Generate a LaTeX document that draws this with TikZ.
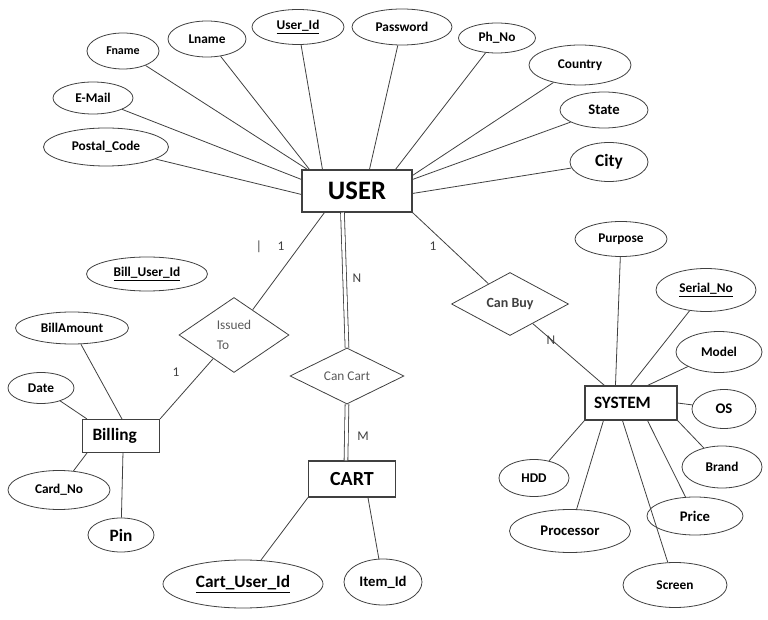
\documentclass[tikz,border=0pt]{standalone}
\usepackage{fontspec}
\setmainfont{Carlito}
\usepackage{xcolor}
\usepackage{tikz}
\usetikzlibrary{shapes.geometric}
\usetikzlibrary{calc, positioning}

\definecolor{linea}{HTML}{404040}
\definecolor{grigio}{HTML}{5A5A5A}

\tikzset{
  attr/.style 2 args={draw=linea, line width=0.6pt, ellipse, inner sep=0pt,
    minimum width=#1*0.75pt, minimum height=#2*0.75pt,
    font=\fontsize{10}{12}\selectfont\bfseries},
  entity/.style={draw=linea, line width=0.8pt, rectangle, inner ysep=0pt},
  rel/.style 2 args={draw=linea, line width=0.6pt, diamond, aspect=1.6, inner sep=0pt,
    minimum width=#1*0.75pt, minimum height=#2*0.75pt,
    font=\fontsize{10}{12}\selectfont, text=grigio},
  card/.style={font=\fontsize{10}{12}\selectfont, text=linea},
  conn/.style={draw=linea, line width=0.6pt},
  doppia/.style={draw=linea, line width=0.6pt, double, double distance=2.2pt}
}

\begin{document}
\begin{tikzpicture}[x=0.75pt, y=-0.75pt]
        \useasboundingbox (0,0) rectangle (768,620);

        % Entita USER
        \node[entity, minimum width=110*0.75pt, minimum height=42*0.75pt,
          font=\fontsize{20}{24}\selectfont\bfseries] (user) at (357,191) {USER};
        \node[attr={72}{36}, font=\fontsize{9}{11}\selectfont\bfseries] (fname) at (123,51) {Fname};
        \node[attr={78}{36}] (lname) at (207,39) {Lname};
        \node[attr={92}{35}] (userid) at (298,27) {\underline{User\_Id}};
        \node[attr={100}{36}] (password) at (402,27) {Password};
        \node[attr={77}{30}] (phno) at (497,38) {Ph\_No};
        \node[attr={102}{40}] (country) at (580,65) {Country};
        \node[attr={88}{36}, font=\fontsize{11}{13}\selectfont\bfseries] (state) at (604,110) {State};
        \node[attr={78}{39}, font=\fontsize{13}{15}\selectfont\bfseries] (city) at (609,162) {City};
        \node[attr={80}{32}] (email) at (93,98) {E-Mail};
        \node[attr={125}{38}] (postal) at (106,147) {Postal\_Code};

        \draw[conn] (fname) -- ($(user.north west)+(6,0)$);
        \draw[conn] (lname) -- ($(user.north west)+(8,0)$);
        \draw[conn] (userid) -- ($(user.north west)+(21,0)$);
        \draw[conn] (password) -- ($(user.north west)+(68,0)$);
        \draw[conn] (phno) -- ($(user.north west)+(94,0)$);
        \draw[conn] (country) -- ($(user.north east)+(0,6)$);
        \draw[conn] (state) -- ($(user.north east)+(0,10)$);
        \draw[conn] (city) -- ($(user.north east)+(0,24)$);
        \draw[conn] (email) -- ($(user.north west)+(0,10)$);
        \draw[conn] (postal) -- ($(user.north west)+(0,25)$);

        % Billing
        \node[entity, text width=57*0.75pt, inner xsep=10*0.75pt, align=left,
          minimum height=33*0.75pt, font=\fontsize{13}{15}\selectfont\bfseries] (billing) at (121,436) {Billing};
        \node[attr={121}{34}] (billuserid) at (147,274) {\underline{Bill\_User\_Id}};
        \node[attr={113}{32}] (billamount) at (72,328) {BillAmount};
        \node[attr={66}{31}] (date) at (41,388) {Date};
        \node[attr={102}{39}] (cardno) at (59,490) {Card\_No};
        \node[attr={66}{34}, font=\fontsize{13}{15}\selectfont\bfseries] (pin) at (121,535) {Pin};

        \draw[conn] (billamount) -- ($(billing.north west)+(40,0)$);
        \draw[conn] (date) -- ($(billing.north west)+(5,0)$);
        \draw[conn] (cardno) -- ($(billing.south west)+(5,0)$);
        \draw[conn] (pin) -- ($(billing.south west)+(41,0)$);

        % Relazione Issued To
        \node[rel={110}{75}, align=left, font=\fontsize{10}{15}\selectfont] (issued) at (234,335) {Issued\\To};
        \draw[conn] ($(user.south west)+(23,0)$) -- (issued);
        \draw[conn] (issued) -- (billing.north east);
        \node[card] (c1) at (281,246) {1};
        \node[card] (cur) at (259,247) {|};
        \node[card] (c2) at (176,372) {1};

        % CART
        \node[rel={114}{56}] (cancart) at (347,376) {Can Cart};
        \node[entity, minimum width=87*0.75pt, minimum height=36*0.75pt,
          font=\fontsize{15}{18}\selectfont\bfseries] (cart) at (352,479) {CART};
        \node[attr={160}{48}, font=\fontsize{13}{15}\selectfont\bfseries] (cartuserid) at (243,584) {\underline{Cart\_User\_Id}};
        \node[attr={78}{46}, font=\fontsize{11}{13}\selectfont\bfseries] (itemid) at (383,582) {Item\_Id};

        \draw[doppia] ($(user.south west)+(41,0)$) -- (cancart.north);
        \draw[doppia] (cancart.south) -- ($(cart.north west)+(38,0)$);
        \draw[conn] (cartuserid) -- (cart.south west);
        \draw[conn] (itemid) -- ($(cart.south west)+(60,0)$);
        \node[card] (n1) at (357,278) {N};
        \node[card] (m1) at (363,436) {M};

        % SYSTEM
        \node[rel={117}{63}, font=\fontsize{10.5}{12}\selectfont\bfseries, text=linea] (canbuy) at (510,304) {Can Buy};
        \node[entity, text width=74*0.75pt, inner xsep=9*0.75pt, align=left,
          minimum height=34*0.75pt, font=\fontsize{13}{15}\selectfont\bfseries] (system) at (631,403) {SYSTEM};
        \node[attr={92}{35}] (purpose) at (621,239) {Purpose};
        \node[attr={100}{43}] (serialno) at (706,290) {\underline{Serial\_No}};
        \node[attr={86}{41}] (model) at (719,352) {Model};
        \node[attr={64}{39}, font=\fontsize{11}{13}\selectfont\bfseries] (os) at (724,409) {OS};
        \node[attr={80}{42}] (brand) at (722,467) {Brand};
        \node[attr={96}{38}, font=\fontsize{11}{13}\selectfont\bfseries] (price) at (695,516) {Price};
        \node[attr={104}{45}] (screen) at (675,585) {Screen};
        \node[attr={121}{43}, font=\fontsize{11}{13}\selectfont\bfseries] (processor) at (570,531) {Processor};
        \node[attr={70}{37}] (hdd) at (534,478) {HDD};

        \draw[conn] (user.south east) -- (canbuy);
        \draw[conn] (canbuy) -- ($(system.north west)+(20,0)$);
        \draw[conn] (purpose) -- ($(system.north west)+(31,0)$);
        \draw[conn] (serialno) -- ($(system.north west)+(46,0)$);
        \draw[conn] (model) -- ($(system.north west)+(63,0)$);
        \draw[conn] (os) -- (system.east);
        \draw[conn] (brand) -- (system.south east);
        \draw[conn] (price) -- ($(system.south west)+(63,0)$);
        \draw[conn] (screen) -- ($(system.south west)+(38,0)$);
        \draw[conn] (processor) -- ($(system.south west)+(19,0)$);
        \draw[conn] (hdd) -- (system.south west);
        \node[card] (c3) at (433,246) {1};
        \node[card] (n2) at (551,340) {N};
    \end{tikzpicture}
\end{document}
